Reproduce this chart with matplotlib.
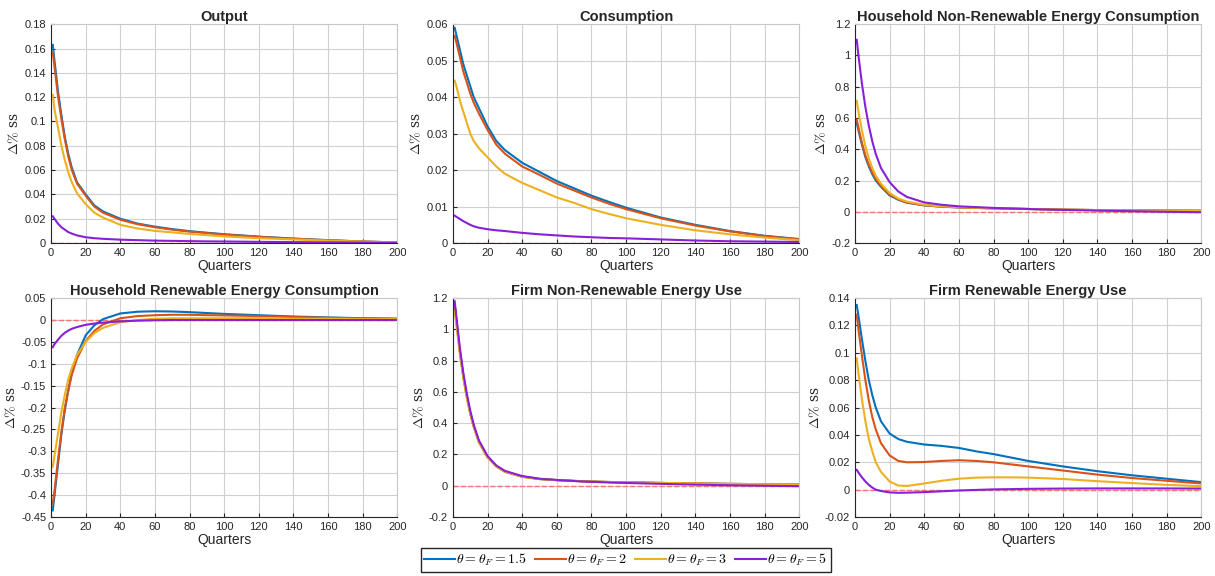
import matplotlib
matplotlib.use("Agg")
import matplotlib.pyplot as plt
from matplotlib.ticker import FuncFormatter
import numpy as np

plt.rcParams['font.family'] = ['Liberation Sans', 'DejaVu Sans']
plt.rcParams['mathtext.fontset'] = 'cm'

q = [1, 2, 4, 6, 8, 10, 12, 15, 20, 25, 30, 40, 50, 60, 70, 80, 90, 100, 120, 140, 160, 180, 200]

labels = [r'$\theta=\theta_F=1.5$', r'$\theta=\theta_F=2$', r'$\theta=\theta_F=3$', r'$\theta=\theta_F=5$']
colors = ['#0072BD', '#D95319', '#EDB120', '#8A1FD8']

titles = ['Output', 'Consumption', 'Household Non-Renewable Energy Consumption',
          'Household Renewable Energy Consumption', 'Firm Non-Renewable Energy Use',
          'Firm Renewable Energy Use']

# Output
out_15 = [.163, .150, .125, .105, .087, .073, .062, .050, .040, .031, .026, .020, .016, .0135, .0115, .0098, .0085, .0073, .0053, .0037, .0024, .0013, .0005]
out_2 = [.157, .145, .121, .102, .085, .071, .060, .049, .039, .030, .025, .0192, .0155, .013, .011, .0094, .0082, .007, .0051, .0036, .0023, .0013, .0005]
out_3 = [.122, .110, .095, .080, .068, .058, .050, .041, .032, .025, .021, .015, .012, .010, .0088, .0075, .0065, .0055, .004, .003, .002, .0012, .0005]
out_5 = [.022, .020, .016, .013, .011, .009, .0078, .0063, .0048, .004, .0035, .0028, .0024, .002, .0018, .0016, .0014, .0013, .001, .0008, .0006, .0004, .0002]

# Consumption
con_15 = [.059, .057, .053, .049, .046, .043, .040, .037, .032, .028, .0255, .022, .0195, .017, .015, .013, .0113, .0097, .007, .005, .0033, .002, .0011]
con_2 = [.0568, .055, .051, .047, .044, .041, .0385, .0355, .031, .027, .0245, .021, .0187, .0163, .0144, .0125, .0108, .0093, .0068, .0048, .0032, .0019, .001]
con_3 = [.0445, .043, .039, .036, .033, .030, .028, .026, .0235, .021, .019, .0165, .0145, .0125, .011, .0093, .008, .0068, .005, .0035, .0024, .0015, .0008]
con_5 = [.0075, .0072, .0066, .006, .0055, .005, .0046, .0042, .0038, .0035, .0033, .0028, .0024, .0021, .0018, .0016, .0014, .0013, .001, .0007, .0005, .0004, .0003]

# Household non-renewable energy
hnr_15 = [.57, .52, .43, .35, .29, .24, .20, .16, .105, .077, .058, .041, .033, .028, .025, .022, .02, .018, .014, .011, .009, .008, .007]
hnr_2 = [.59, .54, .44, .36, .30, .25, .21, .165, .11, .08, .06, .042, .033, .028, .025, .022, .02, .018, .014, .011, .009, .008, .007]
hnr_3 = [.71, .64, .52, .42, .34, .28, .23, .18, .12, .085, .065, .045, .035, .03, .026, .022, .02, .018, .014, .011, .009, .008, .007]
hnr_5 = [1.10, 1.0, .82, .67, .55, .45, .37, .28, .19, .13, .095, .06, .045, .035, .03, .025, .021, .018, .012, .008, .004, .0, -.003]

# Household renewable energy
hr_15 = [-.435, -.40, -.33, -.26, -.205, -.16, -.12, -.08, -.035, -.012, .002, .015, .019, .02, .0195, .018, .016, .014, .011, .008, .006, .004, .003]
hr_2 = [-.42, -.39, -.32, -.255, -.20, -.16, -.125, -.088, -.048, -.025, -.01, .004, .009, .011, .012, .012, .011, .0105, .009, .007, .005, .004, .003]
hr_3 = [-.335, -.31, -.26, -.21, -.17, -.135, -.11, -.08, -.05, -.03, -.018, -.005, .0, .003, .004, .004, .004, .004, .004, .003, .003, .002, .002]
hr_5 = [-.062, -.055, -.045, -.036, -.029, -.024, -.02, -.016, -.011, -.008, -.006, -.003, -.0015, -.0005, 0, 0, 0, 0, 0, 0, 0, 0, 0]

# Firm non-renewable energy
fnr_15 = [1.16, 1.06, .86, .70, .57, .465, .38, .28, .182, .125, .09, .058, .043, .036, .031, .027, .024, .022, .018, .015, .012, .01, .008]
fnr_2 = [1.15, 1.05, .855, .70, .57, .465, .38, .28, .182, .125, .09, .058, .043, .036, .031, .027, .024, .022, .018, .015, .012, .01, .008]
fnr_3 = [1.12, 1.03, .84, .69, .56, .46, .375, .277, .18, .123, .089, .057, .043, .036, .031, .027, .024, .022, .018, .015, .012, .01, .008]
fnr_5 = [1.18, 1.08, .88, .72, .59, .48, .39, .29, .19, .13, .095, .062, .045, .037, .03, .025, .021, .018, .012, .007, .003, .0, -.003]

# Firm renewable energy
fr_15 = [.135, .127, .11, .094, .08, .069, .06, .05, .041, .037, .035, .033, .032, .0305, .028, .026, .0235, .021, .017, .0135, .0105, .008, .0055]
fr_2 = [.128, .117, .098, .08, .065, .053, .044, .034, .025, .021, .020, .0202, .021, .0215, .021, .020, .0185, .017, .014, .011, .0085, .0065, .0045]
fr_3 = [.096, .085, .066, .05, .037, .028, .02, .013, .006, .003, .0027, .0045, .0065, .008, .0088, .009, .009, .0088, .0078, .0062, .0048, .0035, .0025]
fr_5 = [.0145, .0125, .009, .006, .0035, .0015, .0, -.001, -.002, -.0023, -.0022, -.0018, -.0012, -.0006, -.0002, .0002, .0004, .0006, .0008, .0009, .0009, .0009, .0008]

panels = [
    [out_15, out_2, out_3, out_5],
    [con_15, con_2, con_3, con_5],
    [hnr_15, hnr_2, hnr_3, hnr_5],
    [hr_15, hr_2, hr_3, hr_5],
    [fnr_15, fnr_2, fnr_3, fnr_5],
    [fr_15, fr_2, fr_3, fr_5],
]
yticks = [
    np.arange(0, 0.181, 0.02),
    np.arange(0, 0.061, 0.01),
    np.arange(-0.2, 1.21, 0.2),
    np.arange(-0.45, 0.051, 0.05),
    np.arange(-0.2, 1.21, 0.2),
    np.arange(-0.02, 0.141, 0.02),
]

fig = plt.figure(figsize=(12.15, 5.76), dpi=100)
lefts = [0.042, 0.3728, 0.7037]
bottoms = [0.578, 0.1024]
w, h = 0.285, 0.380

def fmt(v, pos):
    v = round(v, 4)
    if abs(v) < 1e-9:
        return '0'
    return '%g' % v

handles = []
for i in range(6):
    ax = fig.add_axes([lefts[i % 3], bottoms[i // 3], w, h])
    for j in range(4):
        ln, = ax.plot(q, panels[i][j], color=colors[j], lw=1.5, label=labels[j])
        if i == 0:
            handles.append(ln)
    ax.axhline(0, color='#FF7070', ls='--', lw=1, zorder=1)
    ax.set_xlim(0, 200)
    ax.set_xticks(np.arange(0, 201, 20))
    yt = yticks[i]
    ax.set_ylim(yt[0], yt[-1])
    ax.set_yticks(yt)
    ax.yaxis.set_major_formatter(FuncFormatter(fmt))
    ax.grid(True, color='#D0D0D0', lw=0.8)
    ax.set_axisbelow(True)
    ax.tick_params(direction='in', labelsize=8, colors='#262626', length=3)
    for s in ['top', 'right']:
        ax.spines[s].set_color('#C8C8C8')
    for s in ['left', 'bottom']:
        ax.spines[s].set_color('#262626')
    ax.set_title(titles[i], fontsize=10.5, fontweight='bold', color='#262626', pad=2)
    ax.set_xlabel('Quarters', fontsize=10, color='#262626', labelpad=1)
    ax.set_ylabel(r'$\Delta\%$ ss', fontsize=10, color='#262626', labelpad=2,
                  family='serif')

fig.legend(handles=handles, loc='center', bbox_to_anchor=(0.515, 0.028), ncol=4,
           fontsize=10, frameon=True, fancybox=False, edgecolor='#262626',
           handlelength=2.2, handletextpad=0.1, columnspacing=0.6,
           borderpad=0.25, framealpha=1)

fig.savefig('out.png', dpi=100)
